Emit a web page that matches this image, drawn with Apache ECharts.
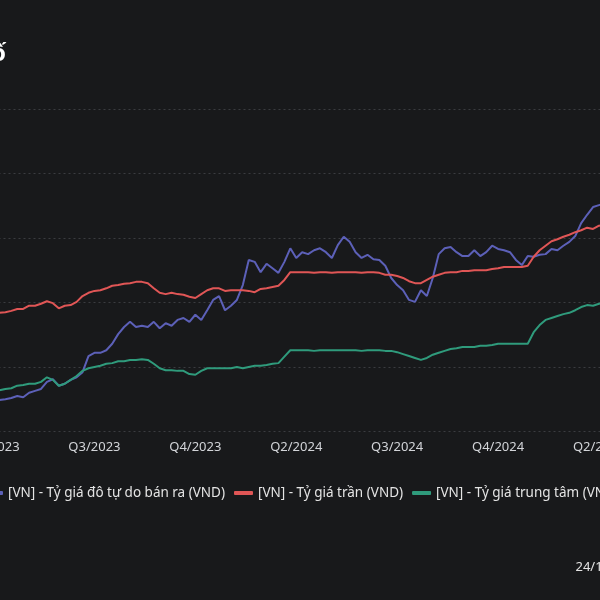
<!DOCTYPE html>
<html>
<head>
<meta charset="utf-8">
<script src="https://cdn.jsdelivr.net/npm/echarts@6/dist/echarts.min.js"></script>
<style>
html,body{margin:0;padding:0;width:600px;height:600px;overflow:hidden;background:#18191b;}
#c{position:absolute;left:-100px;top:0;width:800px;height:600px;}
</style>
</head>
<body>
<div id="c"></div>
<script>
const dates = [
"2023-04-26","2023-05-03","2023-05-10","2023-05-17","2023-05-24","2023-05-31","2023-06-07","2023-06-14","2023-06-21","2023-06-28",
"2023-07-05","2023-07-12","2023-07-19","2023-07-26","2023-08-02","2023-08-09","2023-08-16","2023-08-23","2023-08-30","2023-09-06",
"2023-09-13","2023-09-20","2023-09-27","2023-10-04","2023-10-11","2023-10-18","2023-10-25","2023-11-01","2023-11-08","2023-11-15",
"2023-11-22","2023-11-29","2023-12-06","2023-12-13","2023-12-20","2023-12-27","2024-01-03","2024-01-10","2024-01-17","2024-01-24",
"2024-01-31","2024-02-07","2024-02-14","2024-02-21","2024-02-28","2024-03-06","2024-03-13","2024-03-20","2024-03-27","2024-04-03",
"2024-04-10","2024-04-17","2024-04-24","2024-05-01","2024-05-08","2024-05-15","2024-05-22","2024-05-29","2024-06-05","2024-06-12",
"2024-06-19","2024-06-26","2024-07-03","2024-07-10","2024-07-17","2024-07-24","2024-07-31","2024-08-07","2024-08-14","2024-08-21",
"2024-08-28","2024-09-04","2024-09-11","2024-09-18","2024-09-25","2024-10-02","2024-10-09","2024-10-16","2024-10-23","2024-10-30",
"2024-11-06","2024-11-13","2024-11-20","2024-11-27","2024-12-04","2024-12-11","2024-12-18","2024-12-25","2025-01-01","2025-01-08",
"2025-01-15","2025-01-22","2025-01-29","2025-02-05","2025-02-12","2025-02-19","2025-02-26","2025-03-05","2025-03-12","2025-03-19",
"2025-03-26","2025-04-02","2025-04-09","2025-04-16","2025-04-23","2025-04-30"
];

const freeMarketSell = [
23460,23490,23500,23520,23550,23530,23600,23630,23660,23770,
23810,23710,23740,23800,23840,23920,24170,24220,24220,24260,
24360,24510,24620,24700,24620,24640,24620,24700,24600,24680,
24640,24730,24760,24700,24810,24730,24880,25040,25100,24880,
24950,25040,25270,25660,25630,25470,25600,25530,25460,25630,
25840,25690,25780,25750,25810,25840,25780,25690,25890,26020,
25940,25780,25690,25740,25670,25660,25570,25380,25270,25190,
25040,25010,25190,25100,25380,25750,25840,25860,25780,25720,
25720,25810,25720,25780,25880,25830,25810,25780,25660,25580,
25720,25710,25740,25750,25830,25810,25880,25940,26030,26230,
26360,26480,26510,26540,26560,26570
];

const ceilingRate = [
24810,24840,24850,24870,24900,24900,24950,24950,24980,25020,
24990,24910,24950,24960,25010,25100,25150,25180,25190,25220,
25260,25270,25290,25300,25320,25320,25300,25220,25150,25130,
25150,25130,25120,25090,25070,25130,25190,25220,25220,25180,
25190,25190,25190,25180,25160,25210,25220,25240,25260,25350,
25470,25470,25470,25470,25460,25470,25470,25460,25470,25470,
25470,25470,25460,25470,25470,25460,25430,25430,25410,25380,
25330,25300,25300,25350,25400,25430,25460,25470,25470,25490,
25490,25500,25500,25500,25520,25530,25550,25550,25550,25550,
25570,25710,25810,25880,25950,25980,26020,26050,26090,26120,
26160,26140,26190,26200,26220,26230
];

const centralRate = [
23630,23640,23660,23670,23710,23720,23740,23740,23770,23840,
23800,23710,23740,23800,23860,23940,23980,24000,24020,24050,
24060,24090,24090,24110,24110,24120,24110,24050,23980,23950,
23950,23940,23940,23890,23880,23940,23980,23980,23980,23980,
23980,24000,23980,24000,24020,24020,24030,24050,24060,24160,
24260,24260,24260,24260,24250,24260,24260,24260,24260,24260,
24260,24260,24250,24260,24260,24260,24250,24250,24230,24200,
24170,24140,24110,24140,24190,24220,24250,24280,24290,24310,
24310,24310,24330,24330,24340,24360,24360,24360,24360,24360,
24360,24540,24650,24730,24760,24790,24820,24840,24880,24930,
24960,24950,24980,24990,24990,25010
];

const seriesNames = [
"[VN] - Tỷ giá đô tự do bán ra (VND)",
"[VN] - Tỷ giá trần (VND)",
"[VN] - Tỷ giá trung tâm (VND)"
];
const seriesColors = ["#5c60b8", "#e05656", "#2f9b7c"];
const titleText = "Diễn biến tỷ giá USD/VND theo chỉ số";
const footerText = "24/12/2025";

function quarterLabel(d) {
  const y = d.slice(0, 4);
  const m = parseInt(d.slice(5, 7), 10);
  return "Q" + (Math.floor((m - 1) / 3) + 1) + "/" + y;
}

const chart = echarts.init(document.getElementById('c'), null, {renderer: 'canvas'});
const dataSets = [freeMarketSell, ceilingRate, centralRate];

chart.setOption({
  backgroundColor: '#18191b',
  animation: false,
  textStyle: {fontFamily: 'Noto Sans'},
  grid: {left: 93.5, right: 83.2, top: 109, bottom: 168.5, containLabel: false},
  legend: {
    left: 79,
    top: 481,
    icon: 'roundRect',
    itemWidth: 19,
    itemHeight: 4,
    itemGap: 9,
    textStyle: {color: '#e4e4e4', fontSize: 13.5, fontFamily: 'Noto Sans'},
    data: seriesNames
  },
  xAxis: {
    type: 'category',
    boundaryGap: false,
    data: dates,
    axisLine: {show: false},
    axisTick: {show: false},
    splitLine: {show: false},
    axisLabel: {
      interval: 16,
      color: '#d2d4d8',
      fontSize: 13,
      fontFamily: 'Noto Sans',
      margin: 9,
      formatter: quarterLabel
    }
  },
  yAxis: {
    type: 'value',
    min: 23000,
    max: 28000,
    interval: 1000,
    axisLine: {show: false},
    axisTick: {show: false},
    axisLabel: {color: '#d2d4d8', fontSize: 12},
    splitLine: {lineStyle: {color: '#3a3c40', type: [2, 3], width: 1}}
  },
  graphic: [
    {type: 'text', x: 106, y: 54,
     style: {text: titleText, fill: '#ffffff', fontFamily: 'Noto Sans', fontSize: 24, fontWeight: 'bold', textAlign: 'right', textVerticalAlign: 'middle'}},
    {type: 'text', x: 675.5, y: 567.5,
     style: {text: footerText, fill: '#e4e4e4', fontFamily: 'Noto Sans', fontSize: 13, textAlign: 'left', textVerticalAlign: 'middle'}}
  ],
  series: seriesNames.map((n, k) => ({
    name: n,
    type: 'line',
    data: dataSets[k],
    showSymbol: false,
    symbol: 'none',
    lineStyle: {width: 2, color: seriesColors[k]},
    itemStyle: {color: seriesColors[k]}
  }))
});
</script>
</body>
</html>
